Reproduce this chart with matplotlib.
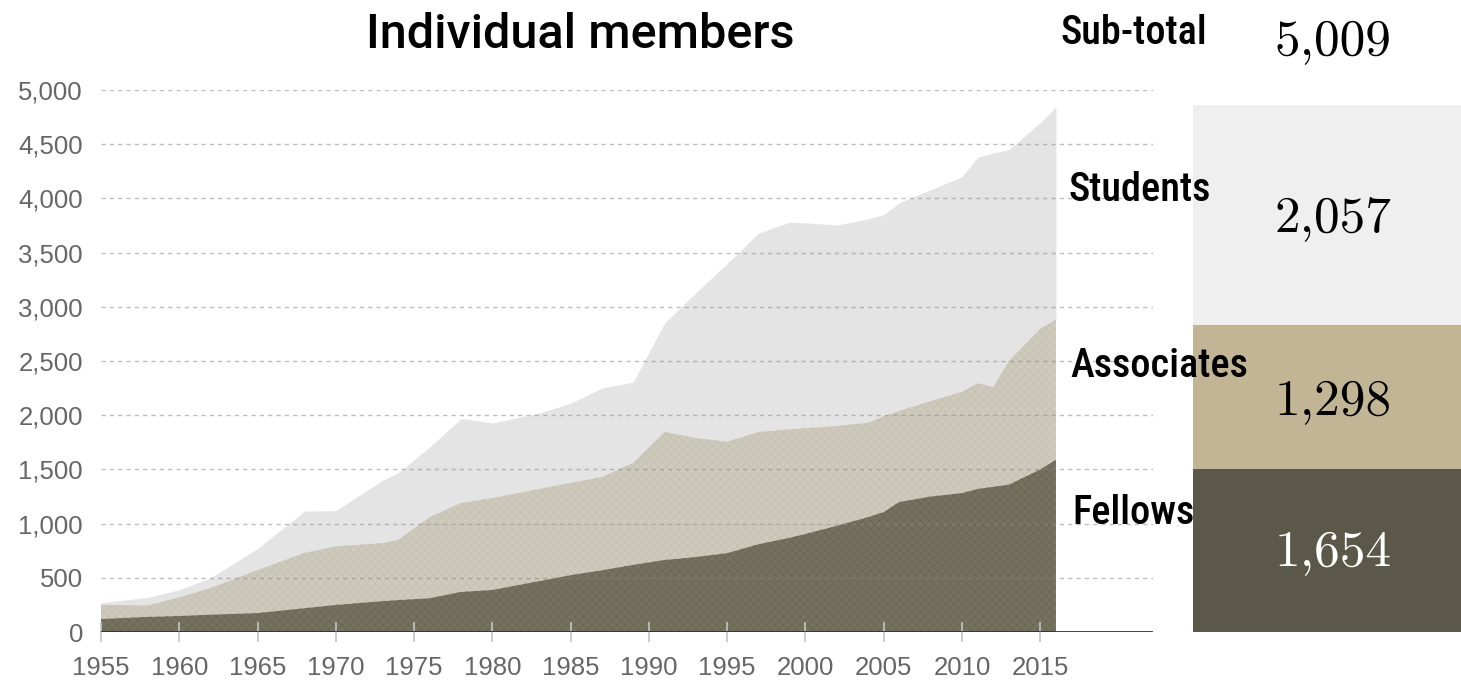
import matplotlib

matplotlib.use("Agg")
import matplotlib.pyplot as plt
import numpy as np

years = [1955, 1958, 1960, 1962, 1965, 1968, 1970, 1973, 1974, 1976, 1978, 1980,
         1983, 1985, 1987, 1989, 1991, 1993, 1995, 1997, 1999, 2000, 2002, 2004,
         2005, 2006, 2008, 2010, 2011, 2012, 2013, 2015, 2016]
fellows = [120, 140, 148, 160, 175, 220, 250, 285, 295, 312, 370, 388,
           470, 525, 570, 620, 665, 692, 728, 810, 870, 905, 980, 1060,
           1107, 1200, 1250, 1282, 1320, 1340, 1360, 1500, 1590]
associates = [130, 105, 172, 245, 395, 510, 540, 535, 555, 748, 820, 848,
              850, 850, 860, 940, 1180, 1098, 1027, 1035, 1000, 975, 920, 870,
              883, 840, 880, 933, 975, 920, 1140, 1300, 1290]
students = [20, 75, 70, 95, 200, 385, 330, 580, 620, 647, 780, 692,
            700, 735, 820, 746, 1005, 1340, 1645, 1835, 1910, 1895, 1855, 1880,
            1860, 1920, 1950, 1985, 2085, 2160, 1950, 1900, 1965]

# latest figures shown in the side panel
panel_labels = ["Students", "Associates", "Fellows"]
panel_numbers = ["2,057", "1,298", "1,654"]
panel_heights = [2030, 1328, 1504]
subtotal = "5,009"

C_FEL, C_ASS, C_STU = "#74715f", "#cdcabb", "#e4e4e4"
B_FEL, B_ASS, B_STU = "#5c5849", "#c2b596", "#efefef"

W, H = 1461, 680
plt.rcParams["hatch.linewidth"] = 0.35
fig = plt.figure(figsize=(W / 100, H / 100), dpi=100)

ax = fig.add_axes([101 / W, 1 - 632 / H, (1153 - 101) / W, (632 - 90) / H])
x = np.array(years)
f = np.array(fellows)
fa = f + np.array(associates)
tot = fa + np.array(students)
ax.fill_between(x, fa, tot, color=C_STU, lw=0, zorder=1)
ax.fill_between(x, f, fa, facecolor=C_ASS, edgecolor="#c0bdae", hatch="xxxx", lw=0, zorder=1)
ax.fill_between(x, 0, f, facecolor=C_FEL, edgecolor="#65624f", hatch="xxxx", lw=0, zorder=1)

ax.set_xlim(1955, 2022.2)
ax.set_ylim(0, 5000)
ax.set_yticks(range(0, 5001, 500))
ax.set_yticklabels([f"{v:,}" for v in range(0, 5001, 500)])
ax.set_xticks(range(1955, 2016, 5))
for v in range(500, 5001, 500):
    ax.axhline(v, color="#8a8a8a", alpha=0.55, lw=1, ls=(0, (3, 3)), zorder=3)
ax.axhline(0, color="#333333", lw=2, zorder=4)
for s in ax.spines.values():
    s.set_visible(False)
ax.tick_params(axis="y", length=0, pad=13, labelsize=18.5, labelcolor="#666666")
ax.tick_params(axis="x", direction="inout", length=15, width=1.2, color="#c4c4c4",
               pad=10, labelsize=18.5, labelcolor="#666666")
for lab in ax.get_xticklabels() + ax.get_yticklabels():
    lab.set_family("Liberation Sans")

# side panel: stacked bar of latest values on the same scale
bx = fig.add_axes([1193 / W, 1 - 632 / H, (W - 1193) / W, (632 - 90) / H])
bottoms = [panel_heights[2] + panel_heights[1], panel_heights[2], 0]
for hgt, bot, col in zip(panel_heights, bottoms, [B_STU, B_ASS, B_FEL]):
    bx.bar(0, hgt, bottom=bot, width=1, color=col, lw=0)
bx.set_xlim(-0.5, 0.5)
bx.set_ylim(0, 5000)
bx.axis("off")

lab_font = ["Roboto Condensed", "Roboto"]
fig.text(580 / W, 1 - 35 / H, "Individual members", ha="center", va="center",
         fontsize=35, family="Roboto", weight="medium", color="black")
fig.text(1060 / W, 1 - 33 / H, "Sub-total", ha="left", va="center",
         fontsize=29, family=lab_font, weight="medium")
fig.text(1333 / W, 1 - 42 / H, subtotal, ha="center", va="center",
         fontsize=37, family="cmr10")
lab_x = [1068, 1070, 1072]
lab_y = [190, 366, 513]
num_y = [218, 402, 553]
num_col = ["black", "black", "white"]
for name, num, lx, ly, ny, nc in zip(panel_labels, panel_numbers, lab_x, lab_y, num_y, num_col):
    fig.text(lx / W, 1 - ly / H, name, ha="left", va="center", fontsize=29,
             family=lab_font, weight="medium", zorder=10)
    fig.text(1333 / W, 1 - ny / H, num, ha="center", va="center", fontsize=37,
             family="cmr10", color=nc, zorder=10)

fig.savefig("out.png", dpi=100)
